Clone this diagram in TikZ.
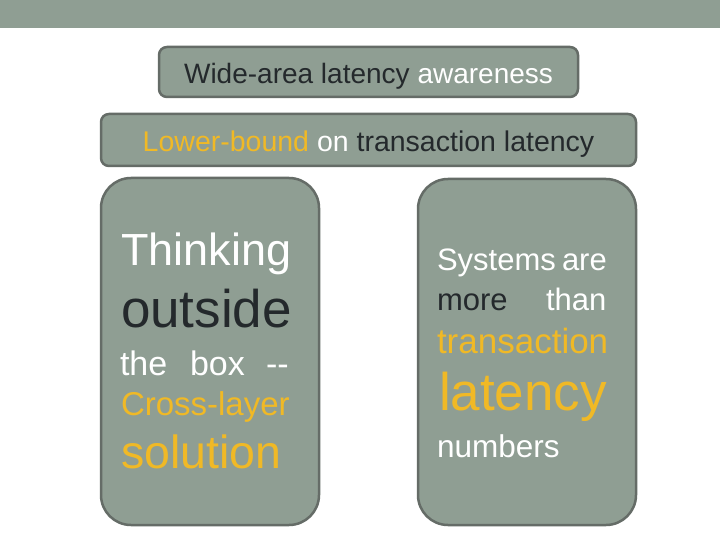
\documentclass[tikz,border=0pt]{standalone}
\usepackage{fontspec}
\setmainfont{Liberation Sans}
\definecolor{sage}{HTML}{8F9E93}
\definecolor{edgegray}{HTML}{656C67}
\definecolor{darktxt}{HTML}{24292C}
\definecolor{gold}{HTML}{F0B926}
\tikzset{
  panel/.style={draw=edgegray, line width=2.5pt, fill=sage, rounded corners=#1},
  txt/.style={anchor=base west, inner sep=0pt, outer sep=0pt},
  ctxt/.style={anchor=base, inner sep=0pt, outer sep=0pt},
}
\newcommand{\fsz}[1]{\fontsize{#1}{#1}\selectfont}
\begin{document}
\begin{tikzpicture}[x=1pt,y=-1pt]
\useasboundingbox (0,0) rectangle (720,540);
\fill[white] (0,0) rectangle (720,540);
\fill[sage] (0,0) rectangle (720,28);
% boxes
\draw[panel=8pt] (159,47) rectangle (578,97);
\draw[panel=8pt] (101,114) rectangle (636,166);
\draw[panel=30pt] (101,178) rectangle (319,525);
\draw[panel=30pt] (418,179) rectangle (636,525);
% top texts
\node[ctxt] (t1) at (368.5,84) {\fsz{28}\color{darktxt}Wide-area latency \color{white}awareness};
\node[ctxt] (t2) at (368.5,152) {\fsz{28.5}\color{gold}Lower-bound \color{white}on \color{darktxt}transaction latency};
% left panel
\node[txt, text=white] (l1) at (121,265) {\fsz{45}Thinking};
\node[txt, text=darktxt] (l2) at (121,327) {\fsz{53}outside};
\node[txt, text=white] (l3a) at (120,375) {\fsz{34}the};
\node[txt, text=white] (l3b) at (190,375) {\fsz{34}box};
\node[txt, text=white] (l3c) at (266,375) {\fsz{34}-{}-};
\node[txt, text=gold] (l4) at (121,415) {\fsz{33}Cross-layer};
\node[txt, text=gold] (l5) at (121,468) {\fsz{46.5}solution};
% right panel
\node[txt, text=white] (r1a) at (437,270) {\fsz{31}Systems};
\node[txt, text=white] (r1b) at (562,270) {\fsz{31}are};
\node[txt, text=darktxt] (r2a) at (437,310) {\fsz{31}more};
\node[txt, text=white] (r2b) at (546,310) {\fsz{31}than};
\node[txt, text=gold] (r3) at (437,353) {\fsz{35}transaction};
\node[txt, text=gold] (r4) at (439,410) {\fsz{53}latency};
\node[txt, text=white] (r5) at (437,457) {\fsz{31.5}numbers};
\end{tikzpicture}
\end{document}
